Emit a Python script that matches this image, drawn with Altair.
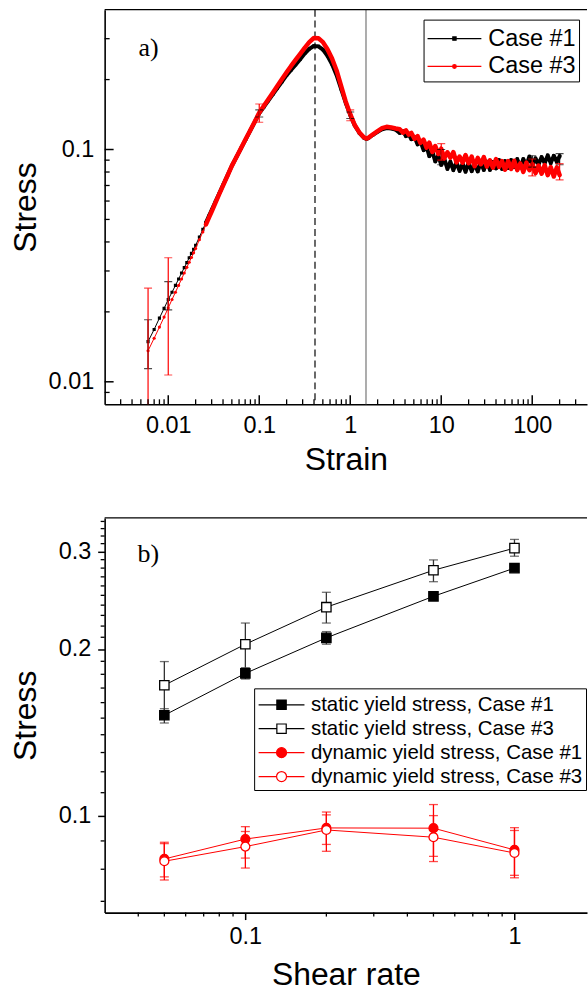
import altair as alt
import pandas as pd

# ---------------- Panel a) : stress vs strain ----------------
strain = [0.006, 0.007, 0.008, 0.009, 0.010, 0.011, 0.012, 0.013, 0.014, 0.015, 0.016, 0.017, 0.018, 0.019, 0.020,
          0.022, 0.024, 0.026, 0.028, 0.030, 0.033, 0.036, 0.040, 0.045, 0.050, 0.056, 0.063, 0.071, 0.080, 0.090,
          0.100, 0.112, 0.126, 0.141, 0.158, 0.178, 0.200, 0.224, 0.251, 0.282, 0.316, 0.355, 0.398, 0.447, 0.501,
          0.562, 0.631, 0.708, 0.794, 0.891, 1.00, 1.12, 1.26, 1.41, 1.50, 1.58, 1.78, 2.00, 2.24, 2.51, 2.82, 3.16,
          3.5, 3.8, 4.1, 4.4, 4.7, 5.1, 5.5, 5.9, 6.4, 6.9, 7.4, 8.0, 8.6, 9.3, 10.0, 10.8, 11.7, 12.6, 13.6, 14.7,
          15.9, 17.2, 18.5, 20.0, 21.6, 23.3, 25.2, 27.2, 29.4, 31.7, 34.3, 37.0, 40.0, 43.2, 46.6, 50.3, 54.4, 58.7,
          63.4, 68.5, 74.0, 79.9, 86.3, 93.2, 100.7, 108.7, 117.4, 126.8, 137.0, 148.0, 159.8, 172.6, 186.4, 200.0]

case1_stress = [0.0149, 0.0168, 0.0188, 0.0207, 0.0226, 0.0243, 0.0260, 0.0277, 0.0294, 0.0310, 0.0326, 0.0342,
                0.0357, 0.0372, 0.0387,
                0.0420, 0.0453, 0.0485, 0.0517, 0.0548, 0.0595, 0.0642, 0.0702, 0.0777, 0.0851, 0.0925, 0.1011,
                0.1106, 0.1209, 0.1321,
                0.1430, 0.1522, 0.1623, 0.1726, 0.1837, 0.1961, 0.2090, 0.2200, 0.2320, 0.2450, 0.2590, 0.2710,
                0.2790, 0.2780, 0.2690,
                0.2530, 0.2330, 0.2090, 0.1825, 0.1590, 0.1410, 0.1270, 0.1180, 0.1125, 0.1112, 0.1118, 0.1158,
                0.1192, 0.1222, 0.1238, 0.1232, 0.1218,
                0.1178, 0.1198, 0.1142, 0.1162, 0.1107, 0.1132, 0.1052, 0.1087, 0.0994, 0.1030, 0.0936, 0.0979,
                0.0888, 0.0942, 0.0859, 0.0915, 0.0825, 0.0886, 0.0815, 0.0881, 0.0809, 0.0869, 0.0802, 0.0878,
                0.0807, 0.0867, 0.0805, 0.0879, 0.0817, 0.0887, 0.0817, 0.0883, 0.0829, 0.0900, 0.0825, 0.0891,
                0.0834, 0.0901, 0.0842, 0.0909, 0.0838, 0.0910, 0.0855, 0.0933, 0.0852, 0.0917, 0.0862, 0.0928,
                0.0873, 0.0943, 0.0874, 0.0940, 0.0884, 0.0937]

case3_stress = [0.0136, 0.0154, 0.0172, 0.0190, 0.0208, 0.0226, 0.0243, 0.0260, 0.0277, 0.0294, 0.0311, 0.0327,
                0.0343, 0.0359, 0.0375,
                0.0409, 0.0442, 0.0476, 0.0509, 0.0541, 0.0590, 0.0638, 0.0699, 0.0775, 0.0850, 0.0926, 0.1013,
                0.1109, 0.1213, 0.1327,
                0.1440, 0.1538, 0.1645, 0.1755, 0.1875, 0.2010, 0.2150, 0.2290, 0.2430, 0.2580, 0.2740, 0.2900,
                0.3020, 0.3010, 0.2900,
                0.2700, 0.2465, 0.2190, 0.1880, 0.1610, 0.1420, 0.1275, 0.1185, 0.1128, 0.1114, 0.1122, 0.1163,
                0.1200, 0.1235, 0.1252, 0.1245, 0.1232,
                0.1222, 0.1182, 0.1209, 0.1158, 0.1178, 0.1112, 0.1143, 0.1068, 0.1102, 0.1019, 0.1071, 0.0975,
                0.1035, 0.0956, 0.1008, 0.0917, 0.0973, 0.0921, 0.0974, 0.0880, 0.0933, 0.0878, 0.0946, 0.0873,
                0.0932, 0.0847, 0.0920, 0.0864, 0.0927, 0.0845, 0.0899, 0.0835, 0.0910, 0.0842, 0.0891, 0.0819,
                0.0892, 0.0825, 0.0895, 0.0815, 0.0871, 0.0801, 0.0878, 0.0815, 0.0865, 0.0791, 0.0853, 0.0787,
                0.0857, 0.0775, 0.0840, 0.0765, 0.0838, 0.0776]

err_strain = [0.006, 0.01, 0.1, 1.0, 10.0, 100.0, 200.0]
case1_err_lo = [0.0114, 0.0204, 0.138, 0.136, 0.086, 0.084, 0.086]
case1_err_hi = [0.0185, 0.0270, 0.148, 0.145, 0.100, 0.094, 0.096]
case3_err_lo = [0.0021, 0.0107, 0.131, 0.133, 0.090, 0.077, 0.074]
case3_err_hi = [0.0253, 0.0342, 0.157, 0.148, 0.106, 0.091, 0.087]

peak_strain = [0.41]
min_strain = [1.49]

a_series = ["Case #1", "Case #3"]
a_x_major = [0.01, 0.1, 1, 10, 100]
a_x_minor = [0.003, 0.004, 0.005, 0.006, 0.007, 0.008, 0.009,
             0.02, 0.03, 0.04, 0.05, 0.06, 0.07, 0.08, 0.09,
             0.2, 0.3, 0.4, 0.5, 0.6, 0.7, 0.8, 0.9,
             2, 3, 4, 5, 6, 7, 8, 9,
             20, 30, 40, 50, 60, 70, 80, 90, 200, 300]
a_y_major = [0.01, 0.1]
a_y_minor = [0.009, 0.02, 0.03, 0.04, 0.05, 0.06, 0.07, 0.08, 0.09, 0.2, 0.3]

# ---------------- Panel b) : yield stress vs shear rate ----------------
shear_rate = [0.05, 0.1, 0.2, 0.5, 1.0]
static1 = [0.1518, 0.1807, 0.2095, 0.2490, 0.2800]
static1_lo = [0.1470, 0.1765, 0.2040, 0.2450, 0.2770]
static1_hi = [0.1560, 0.1845, 0.2150, 0.2525, 0.2830]
static3 = [0.1720, 0.2040, 0.2380, 0.2775, 0.3043]
static3_lo = [0.1540, 0.1850, 0.2228, 0.2646, 0.2942]
static3_hi = [0.1898, 0.2228, 0.2532, 0.2897, 0.3155]
dyn1 = [0.0835, 0.0907, 0.0950, 0.0949, 0.0867]
dyn1_lo = [0.0775, 0.0838, 0.0887, 0.0844, 0.0780]
dyn1_hi = [0.0895, 0.0955, 0.1015, 0.1047, 0.0951]
dyn3 = [0.0827, 0.0879, 0.0942, 0.0914, 0.0856]
dyn3_lo = [0.0765, 0.0804, 0.0862, 0.0826, 0.0772]
dyn3_hi = [0.0890, 0.0936, 0.1003, 0.1000, 0.0940]

b_series = ["static yield stress, Case #1", "static yield stress, Case #3",
            "dynamic yield stress, Case #1", "dynamic yield stress, Case #3"]
b_x_major = [0.1, 1]
b_x_minor = [0.04, 0.05, 0.06, 0.07, 0.08, 0.09, 0.2, 0.3, 0.4, 0.5, 0.6, 0.7, 0.8, 0.9]
b_y_major = [0.1, 0.2, 0.3]
b_y_minor = [0.07, 0.08, 0.09, 0.11, 0.12, 0.13, 0.14, 0.15, 0.16, 0.17, 0.18, 0.19,
             0.21, 0.22, 0.23, 0.24, 0.25, 0.26, 0.27, 0.28, 0.29, 0.31, 0.32, 0.33, 0.34]

# ---------------- layout / style ----------------
W, H = 484, 396
FONT = "Liberation Sans"
SERIF = "Liberation Serif"
RED = "#ff0000"

xs_a = alt.Scale(type="log", domain=[0.002, 400], nice=False)
ys_a = alt.Scale(type="log", domain=[0.008, 0.4], nice=False)
ax_xa = alt.Axis(values=a_x_major, format="~g", ticks=False, title="Strain", labelPadding=9,
                 titlePadding=8, labelFlush=False, labelOverlap=False, grid=False)
ax_ya = alt.Axis(values=a_y_major, format="~g", ticks=False, title="Stress", labelPadding=11,
                 titlePadding=5.6, labelOverlap=False, grid=False)


def XA(field):
    return alt.X(field, type="quantitative", scale=xs_a, axis=ax_xa)


def YA(field):
    return alt.Y(field, type="quantitative", scale=ys_a, axis=ax_ya)


def curve_layers(stress, color, shape, thick):
    df = pd.DataFrame({"strain": strain, "stress": stress})
    base = alt.Chart(df).encode(x=XA("strain"), y=YA("stress"))
    thin_line = base.mark_line(color=color, strokeWidth=1, clip=True)
    band = base.transform_filter("datum.strain >= 0.026").mark_line(
        color=color, strokeWidth=thick, strokeJoin="round", strokeCap="round", clip=True)
    pts = base.mark_point(shape=shape, filled=True, color=color, size=10, opacity=1, clip=True)
    return [thin_line, band, pts]


def err_layers(lo, hi, color):
    edf = pd.DataFrame({"strain": err_strain, "lo": lo, "hi": hi})
    eb = alt.Chart(edf)
    bar = eb.mark_rule(color=color, strokeWidth=1.2, clip=True).encode(
        x=XA("strain"), y=YA("lo"), y2="hi")
    cap_lo = eb.mark_tick(color=color, orient="horizontal", size=8, thickness=1.2, clip=True).encode(
        x=XA("strain"), y=YA("lo"))
    cap_hi = eb.mark_tick(color=color, orient="horizontal", size=8, thickness=1.2, clip=True).encode(
        x=XA("strain"), y=YA("hi"))
    return [bar, cap_lo, cap_hi]


vline_dash = alt.Chart(pd.DataFrame({"strain": peak_strain})).mark_rule(
    color="#444444", strokeWidth=1.6, strokeDash=[7, 4]).encode(
    x=XA("strain"), y=alt.value(0), y2=alt.value(H))
vline_solid = alt.Chart(pd.DataFrame({"strain": min_strain})).mark_rule(
    color="#808080", strokeWidth=1.3).encode(
    x=XA("strain"), y=alt.value(0), y2=alt.value(H))

a_xtick_major = alt.Chart(pd.DataFrame({"strain": a_x_major})).mark_rule(color="black", strokeWidth=1.5).encode(
    x=XA("strain"), y=alt.value(H), y2=alt.value(H - 9))
a_xtick_minor = alt.Chart(pd.DataFrame({"strain": a_x_minor})).mark_rule(color="black", strokeWidth=1.3).encode(
    x=XA("strain"), y=alt.value(H), y2=alt.value(H - 5))
a_ytick_major = alt.Chart(pd.DataFrame({"stress": a_y_major})).mark_rule(color="black", strokeWidth=1.5).encode(
    y=YA("stress"), x=alt.value(0), x2=alt.value(9))
a_ytick_minor = alt.Chart(pd.DataFrame({"stress": a_y_minor})).mark_rule(color="black", strokeWidth=1.3).encode(
    y=YA("stress"), x=alt.value(0), x2=alt.value(5))

one_row = pd.DataFrame({"label": ["a)"]})
top_border_a = alt.Chart(one_row).mark_rule(color="black", strokeWidth=1.4).encode(
    x=alt.value(0), x2=alt.value(W), y=alt.value(0))
label_a = alt.Chart(one_row).mark_text(font=SERIF, fontSize=26, align="left", baseline="middle",
                                      color="black").encode(
    x=alt.value(34), y=alt.value(38), text="label:N")

PATH_SQ_A = "M-1.8,0H1.8M-0.107,-0.107H0.107V0.107H-0.107Z"
PATH_CI_A = "M-1.8,0H1.8M0.12,0A0.12,0.12,0,1,1,-0.12,0A0.12,0.12,0,1,1,0.12,0Z"
leg_a = alt.Legend(title=None, orient="none", legendX=320, legendY=10, labelFont=FONT, labelFontSize=23.5,
                   labelColor="black", symbolSize=900, symbolStrokeWidth=1.3, symbolOffset=12, labelOffset=18,
                   symbolOpacity=1, padding=3, rowPadding=0, strokeColor="black", fillColor="white",
                   labelLimit=0)
legend_a = alt.Chart(pd.DataFrame({"series": a_series})).transform_filter("false").mark_point(
    filled=True, opacity=1).encode(
    shape=alt.Shape("series:N", scale=alt.Scale(domain=a_series, range=[PATH_SQ_A, PATH_CI_A]), legend=leg_a),
    stroke=alt.Stroke("series:N", scale=alt.Scale(domain=a_series, range=["black", RED]), legend=leg_a),
    fill=alt.Fill("series:N", scale=alt.Scale(domain=a_series, range=["black", RED]), legend=leg_a),
)

layers_a = ([vline_dash, vline_solid]
            + curve_layers(case1_stress, "black", "square", 4)
            + curve_layers(case3_stress, RED, "circle", 4.5)
            + err_layers(case1_err_lo, case1_err_hi, "black")
            + err_layers(case3_err_lo, case3_err_hi, RED)
            + [a_xtick_major, a_xtick_minor, a_ytick_major, a_ytick_minor, top_border_a, label_a, legend_a])
chart_a = alt.layer(*layers_a).properties(width=W, height=H)

# ---------------- panel b construction ----------------
xs_b = alt.Scale(type="log", domain=[0.03, 1.86], nice=False)
ys_b = alt.Scale(type="log", domain=[0.0668, 0.345], nice=False)
ax_xb = alt.Axis(values=b_x_major, format="~g", tickSize=7, tickWidth=1.5, tickColor="black",
                 title="Shear rate", labelPadding=5, titlePadding=12, labelFlush=False,
                 labelOverlap=False, grid=False)
ax_yb = alt.Axis(values=b_y_major, format="~g", tickSize=7, tickWidth=1.5, tickColor="black",
                 title="Stress", labelPadding=7, titlePadding=15.6, labelOverlap=False, grid=False)


def XB(field):
    return alt.X(field, type="quantitative", scale=xs_b, axis=ax_xb)


def YB(field):
    return alt.Y(field, type="quantitative", scale=ys_b, axis=ax_yb)


def b_series_layers(vals, lo, hi, color, err_color, shape, fill):
    df = pd.DataFrame({"rate": shear_rate, "stress": vals, "lo": lo, "hi": hi})
    base = alt.Chart(df)
    line = base.mark_line(color=color, strokeWidth=1).encode(x=XB("rate"), y=YB("stress"))
    bar = base.mark_rule(color=err_color, strokeWidth=1.3).encode(x=XB("rate"), y=YB("lo"), y2="hi")
    cap_lo = base.mark_tick(color=err_color, orient="horizontal", size=9, thickness=1.3).encode(
        x=XB("rate"), y=YB("lo"))
    cap_hi = base.mark_tick(color=err_color, orient="horizontal", size=9, thickness=1.3).encode(
        x=XB("rate"), y=YB("hi"))
    pts = base.mark_point(shape=shape, filled=True, fill=fill, stroke=color, strokeWidth=1.3,
                          size=(88 if shape == "square" else 80), opacity=1).encode(
        x=XB("rate"), y=YB("stress"))
    return [line, bar, cap_lo, cap_hi], [pts]


s1_l, s1_p = b_series_layers(static1, static1_lo, static1_hi, "black", "#333333", "square", "black")
s3_l, s3_p = b_series_layers(static3, static3_lo, static3_hi, "black", "#333333", "square", "white")
d1_l, d1_p = b_series_layers(dyn1, dyn1_lo, dyn1_hi, RED, RED, "circle", RED)
d3_l, d3_p = b_series_layers(dyn3, dyn3_lo, dyn3_hi, RED, RED, "circle", "white")

b_xtick_minor = alt.Chart(pd.DataFrame({"rate": b_x_minor})).mark_rule(color="black", strokeWidth=1.3).encode(
    x=XB("rate"), y=alt.value(H), y2=alt.value(H + 4))
b_ytick_minor = alt.Chart(pd.DataFrame({"stress": b_y_minor})).mark_rule(color="black", strokeWidth=1.3).encode(
    y=YB("stress"), x=alt.value(-4), x2=alt.value(0))

one_row_b = pd.DataFrame({"label": ["b)"]})
top_border_b = alt.Chart(one_row_b).mark_rule(color="black", strokeWidth=1.4).encode(
    x=alt.value(0), x2=alt.value(W), y=alt.value(0))
label_b = alt.Chart(one_row_b).mark_text(font=SERIF, fontSize=26, align="left", baseline="middle",
                                        color="black").encode(
    x=alt.value(33), y=alt.value(36), text="label:N")

R = "1.84"
PATH_SQ_F = f"M-{R},0H{R}M-0.376,-0.376H0.376V0.376H-0.376Z"
PATH_SQ_O = f"M-{R},0H-0.376M0.376,0H{R}M-0.376,-0.376H0.376V0.376H-0.376Z"
PATH_CI_F = f"M-{R},0H{R}M0.4,0A0.4,0.4,0,1,1,-0.4,0A0.4,0.4,0,1,1,0.4,0Z"
PATH_CI_O = f"M-{R},0H-0.4M0.4,0H{R}M0.4,0A0.4,0.4,0,1,1,-0.4,0A0.4,0.4,0,1,1,0.4,0Z"
leg_b = alt.Legend(title=None, orient="none", legendX=150, legendY=171, labelFont=FONT, labelFontSize=20.5,
                   labelColor="black", symbolSize=625, symbolStrokeWidth=1.2, symbolOffset=11, labelOffset=16,
                   symbolOpacity=1, padding=3, rowPadding=0, strokeColor="black", fillColor="white",
                   labelLimit=0)
legend_b = alt.Chart(pd.DataFrame({"series": b_series})).transform_filter("false").mark_point(
    filled=True, opacity=1).encode(
    shape=alt.Shape("series:N", scale=alt.Scale(domain=b_series,
                                                range=[PATH_SQ_F, PATH_SQ_O, PATH_CI_F, PATH_CI_O]), legend=leg_b),
    stroke=alt.Stroke("series:N", scale=alt.Scale(domain=b_series, range=["black", "black", RED, RED]),
                      legend=leg_b),
    fill=alt.Fill("series:N", scale=alt.Scale(domain=b_series, range=["black", "white", RED, "white"]),
                  legend=leg_b),
)

layers_b = (s1_l + s3_l + d1_l + d3_l + s1_p + s3_p + d1_p + d3_p
            + [b_xtick_minor, b_ytick_minor, top_border_b, label_b, legend_b])
chart_b = alt.layer(*layers_b).properties(width=W, height=H)

chart = alt.vconcat(chart_a, chart_b, spacing=41).resolve_scale(
    shape="independent", stroke="independent", fill="independent"
).resolve_legend(shape="independent", stroke="independent", fill="independent").properties(
    padding={"left": 9, "top": 7, "right": 0, "bottom": 0}
).configure_view(stroke=None).configure_axis(
    labelFont=FONT, labelFontSize=23.5, labelColor="black",
    titleFont=FONT, titleFontSize=32, titleFontWeight="normal", titleColor="black",
    domainColor="black", domainWidth=1.6,
)

chart.save("out.html", embed_options={"renderer": "svg", "actions": False})
